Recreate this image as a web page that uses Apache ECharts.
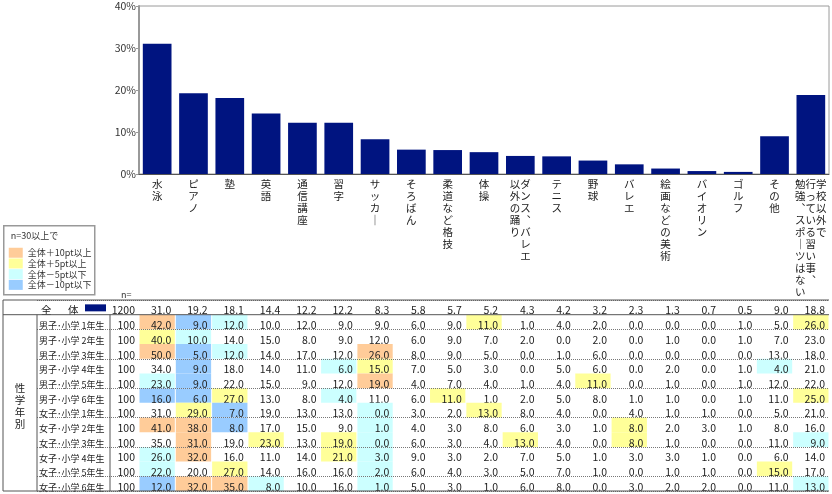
<!DOCTYPE html>
<html>
<head>
<meta charset="utf-8">
<script src="https://cdn.jsdelivr.net/npm/echarts@6/dist/echarts.min.js"></script>
<style>
html, body { margin: 0; padding: 0; background: #fff; }
#main { width: 832px; height: 494px; }
</style>
</head>
<body>
<div id="main"></div>
<script>
// 習い事の種類（横軸）
var categories = ['水泳', 'ピアノ', '塾', '英語', '通信講座', '習字', 'サッカー', 'そろばん', '柔道など格技', '体操',
    'ダンス、バレエ以外の踊り', 'テニス', '野球', 'バレエ', '絵画などの美術', 'バイオリン', 'ゴルフ', 'その他',
    '学校以外で行っている習い事、勉強、スポーツはない'];
// 縦書きラベルの列分け（右の列から）
var labelColumns = [['水泳'], ['ピアノ'], ['塾'], ['英語'], ['通信講座'], ['習字'], ['サッカー'], ['そろばん'],
    ['柔道など格技'], ['体操'], ['ダンス、バレエ', '以外の踊り'], ['テニス'], ['野球'], ['バレエ'], ['絵画などの美術'],
    ['バイオリン'], ['ゴルフ'], ['その他'], ['学校以外で', '行っている習い事、', '勉強、スポーツはない']];

// 全体 (n=1200) %
var overall = [31.0, 19.2, 18.1, 14.4, 12.2, 12.2, 8.3, 5.8, 5.7, 5.2, 4.3, 4.2, 3.2, 2.3, 1.3, 0.7, 0.5, 9.0, 18.8];
var nTotal = 1200;

var rowLabels = ['男子･小学 1年生', '男子･小学 2年生', '男子･小学 3年生', '男子･小学 4年生', '男子･小学 5年生',
    '男子･小学 6年生', '女子･小学 1年生', '女子･小学 2年生', '女子･小学 3年生', '女子･小学 4年生',
    '女子･小学 5年生', '女子･小学 6年生'];
var rowN = [100, 100, 100, 100, 100, 100, 100, 100, 100, 100, 100, 100];

var boy1 = [42, 9, 12, 10, 12, 9, 9, 6, 9, 11, 1, 4, 2, 0, 0, 0, 1, 5, 26];
var boy2 = [40, 10, 14, 15, 8, 9, 12, 6, 9, 7, 2, 0, 2, 0, 1, 0, 1, 7, 23];
var boy3 = [50, 5, 12, 14, 17, 12, 26, 8, 9, 5, 0, 1, 6, 0, 0, 0, 0, 13, 18];
var boy4 = [34, 9, 18, 14, 11, 6, 15, 7, 5, 3, 0, 5, 6, 0, 2, 0, 1, 4, 21];
var boy5 = [23, 9, 22, 15, 9, 12, 19, 4, 7, 4, 1, 4, 11, 0, 1, 0, 1, 12, 22];
var boy6 = [16, 6, 27, 13, 8, 4, 11, 6, 11, 1, 2, 5, 8, 1, 1, 0, 1, 11, 25];
var girl1 = [31, 29, 7, 19, 13, 13, 0, 3, 2, 13, 8, 4, 0, 4, 1, 1, 0, 5, 21];
var girl2 = [41, 38, 8, 17, 15, 9, 1, 4, 3, 8, 6, 3, 1, 8, 2, 3, 1, 8, 16];
var girl3 = [35, 31, 19, 23, 13, 19, 0, 6, 3, 4, 13, 4, 0, 8, 1, 0, 0, 11, 9];
var girl4 = [26, 32, 16, 11, 14, 21, 3, 9, 3, 2, 7, 5, 1, 3, 3, 1, 0, 6, 14];
var girl5 = [22, 20, 27, 14, 16, 16, 2, 6, 4, 3, 5, 7, 1, 0, 1, 1, 0, 15, 17];
var girl6 = [12, 32, 35, 8, 10, 16, 1, 5, 3, 1, 6, 8, 0, 3, 2, 2, 0, 11, 13];
var groupRows = [boy1, boy2, boy3, boy4, boy5, boy6, girl1, girl2, girl3, girl4, girl5, girl6];

var yTicks = [0, 10, 20, 30, 40];

var FONT = '"Noto Sans CJK JP", sans-serif';
var BAR_COLOR = '#001480';
var LINE = '#555';
var C_PLUS10 = '#ffcc99', C_PLUS5 = '#ffff99', C_MINUS5 = '#ccffff', C_MINUS10 = '#99ccff';

var TABLE_TOP = 300, TABLE_BOTTOM = 491;
var ROW_H = (TABLE_BOTTOM - TABLE_TOP) / (rowLabels.length + 1);

// 全体との差で色分け（n=30以上）
function cellColor(diff) {
    if (diff >= 10) return C_PLUS10;
    if (diff >= 5) return C_PLUS5;
    if (diff <= -10) return C_MINUS10;
    if (diff <= -5) return C_MINUS5;
    return null;
}

function verticalLabel(idx) {
    var cols = labelColumns[idx].map(function (s) {
        return s.replace(/ー/g, '｜').replace(/、/g, '︑');
    });
    var len = Math.max.apply(null, cols.map(function (s) { return s.length; }));
    var lines = [];
    for (var i = 0; i < len; i++) {
        var line = '';
        for (var c = cols.length - 1; c >= 0; c--) {
            line += cols[c].charAt(i) || '　';
        }
        lines.push(line);
    }
    return lines.join('\n');
}

var cellData = [];
overall.forEach(function (v, x) { cellData.push([x, 0, v]); });
groupRows.forEach(function (row, r) {
    row.forEach(function (v, x) { cellData.push([x, r + 1, v]); });
});

var rowData = [[0, 0, nTotal]];
rowN.forEach(function (n, r) { rowData.push([0, r + 1, n]); });

var rowNames = ['全体'].concat(rowLabels);

function renderCell(params, api) {
    var x = api.value(0), y = api.value(1), v = api.value(2);
    var c = api.coord([x, y]);
    var s = api.size([1, 1]);
    var left = c[0] - s[0] / 2, top = c[1] - s[1] / 2;
    var children = [];
    var fill = y === 0 ? null : cellColor(v - overall[x]);
    if (fill) {
        children.push({ type: 'rect', shape: { x: left + 0.5, y: top, width: s[0] - 1, height: s[1] }, style: { fill: fill } });
    }
    children.push({
        type: 'text',
        style: { text: v.toFixed(1), x: left + s[0] - 4, y: top + s[1] + 1, align: 'right', verticalAlign: 'bottom',
            fontSize: 10.5, fontFamily: FONT, fill: '#222' }
    });
    return { type: 'group', children: children };
}

function renderRowHead(params, api) {
    var r = api.value(1), n = api.value(2);
    var c0 = api.coord([0, r]);
    var c1 = api.coord([1, r]);
    var h = api.size([0, 1])[1];
    var bottom = c0[1] + h / 2 + 1;
    var children = [];
    if (r === 0) {
        children.push({ type: 'text', style: { text: rowNames[0].charAt(0), x: c0[0] + 4, y: bottom, align: 'left', verticalAlign: 'bottom', fontSize: 10.5, fontFamily: FONT, fill: '#222' } });
        children.push({ type: 'text', style: { text: rowNames[0].charAt(1), x: c0[0] + 31, y: bottom, align: 'left', verticalAlign: 'bottom', fontSize: 10.5, fontFamily: FONT, fill: '#222' } });
        children.push({ type: 'rect', shape: { x: c0[0] + 48, y: c0[1] - 3, width: 21, height: 7 }, style: { fill: BAR_COLOR } });
    } else {
        children.push({ type: 'text', style: { text: rowNames[r], x: c0[0] + 2, y: bottom, align: 'left', verticalAlign: 'bottom', fontSize: 9, fontFamily: FONT, fill: '#222' } });
    }
    children.push({ type: 'text', style: { text: String(n), x: c1[0] - 4, y: bottom, align: 'right', verticalAlign: 'bottom', fontSize: 10.5, fontFamily: FONT, fill: '#222' } });
    return { type: 'group', children: children };
}

var legendItems = [[C_PLUS10, '全体＋10pt以上'], [C_PLUS5, '全体＋5pt以上'], [C_MINUS5, '全体－5pt以下'], [C_MINUS10, '全体－10pt以下']];
var legendChildren = [
    { type: 'rect', shape: { x: 0, y: 0, width: 91, height: 69 }, style: { fill: '#fff', stroke: '#999', lineWidth: 1.5 } },
    { type: 'text', style: { text: 'n=30以上で', x: 7, y: 10, verticalAlign: 'middle', fontSize: 9, fontFamily: FONT, fill: '#333' } }
];
legendItems.forEach(function (it, i) {
    legendChildren.push({ type: 'rect', shape: { x: 5, y: 22 + i * 10.7, width: 14, height: 10 }, style: { fill: it[0] } });
    legendChildren.push({ type: 'text', style: { text: it[1], x: 24, y: 27 + i * 10.7, verticalAlign: 'middle', fontSize: 9, fontFamily: FONT, fill: '#333' } });
});

function hLine(x1, x2, y) {
    return { type: 'line', z: 50, shape: { x1: x1, y1: y, x2: x2, y2: y }, style: { stroke: LINE, lineWidth: 1 } };
}
function vLine(x, y1, y2) {
    return { type: 'line', z: 50, shape: { x1: x, y1: y1, x2: x, y2: y2 }, style: { stroke: LINE, lineWidth: 1 } };
}

var chart = echarts.init(document.getElementById('main'));
var option = {
    animation: false,
    textStyle: { fontFamily: FONT },
    grid: [
        { left: 139, right: 3, top: 6, bottom: 320, show: true, borderColor: '#9a9a9a', borderWidth: 1 },
        { left: 139, right: 3, top: TABLE_TOP, bottom: 494 - TABLE_BOTTOM },
        { left: 37, width: 102, top: TABLE_TOP, bottom: 494 - TABLE_BOTTOM }
    ],
    xAxis: [
        {
            type: 'category', gridIndex: 0, data: categories, z: 10,
            axisLine: { lineStyle: { color: LINE } },
            axisTick: { interval: 0, length: TABLE_BOTTOM - 174, lineStyle: { color: LINE } },
            axisLabel: {
                interval: 0, margin: 4, fontSize: 10.5, lineHeight: 12, color: '#222', fontFamily: FONT,
                formatter: function (val, idx) { return verticalLabel(idx); }
            }
        },
        { type: 'category', gridIndex: 1, data: categories, show: false },
        { type: 'value', gridIndex: 2, min: 0, max: 1, show: false }
    ],
    yAxis: [
        {
            type: 'value', gridIndex: 0, min: yTicks[0], max: yTicks[yTicks.length - 1], interval: 10,
            axisLine: { show: true, lineStyle: { color: '#999', width: 2 } },
            axisTick: { show: true, length: 3, lineStyle: { color: '#999' } },
            axisLabel: { formatter: '{value}%', fontSize: 10.5, color: '#333', margin: 3, fontFamily: FONT },
            splitLine: { show: false }
        },
        {
            type: 'category', gridIndex: 1, data: rowNames, inverse: true, z: 10,
            axisLine: { show: false }, axisTick: { show: false }, axisLabel: { show: false },
            splitLine: { show: true, lineStyle: { type: 'dotted', color: '#777' } }
        },
        {
            type: 'category', gridIndex: 2, data: rowNames, inverse: true, z: 10,
            axisLine: { show: false }, axisTick: { show: false }, axisLabel: { show: false },
            splitLine: { show: true, lineStyle: { type: 'dotted', color: '#777' } }
        }
    ],
    series: [
        {
            type: 'bar', xAxisIndex: 0, yAxisIndex: 0, data: overall, barCategoryGap: '21%',
            itemStyle: { color: BAR_COLOR }, silent: true
        },
        {
            type: 'custom', xAxisIndex: 1, yAxisIndex: 1, data: cellData, renderItem: renderCell,
            encode: { x: 0, y: 1 }, silent: true
        },
        {
            type: 'custom', xAxisIndex: 2, yAxisIndex: 2, data: rowData, renderItem: renderRowHead,
            encode: { x: 0, y: 1 }, silent: true
        }
    ],
    graphic: [
        { type: 'group', left: 3, top: 225, children: legendChildren },
        { type: 'text', z: 50, style: { text: 'n=', x: 121, y: 299, verticalAlign: 'bottom', fontSize: 9, fontFamily: FONT, fill: '#333' } },
        {
            type: 'text', z: 50,
            style: { text: '性\n学\n年\n別', x: 20, y: 406, align: 'center', verticalAlign: 'middle', lineHeight: 12,
                fontSize: 10.5, fontFamily: FONT, fill: '#222' }
        },
        hLine(3, 829, TABLE_TOP),
        hLine(3, 829, TABLE_TOP + ROW_H),
        hLine(3, 829, TABLE_BOTTOM),
        vLine(3, TABLE_TOP, TABLE_BOTTOM),
        vLine(37, TABLE_TOP + ROW_H, TABLE_BOTTOM),
        vLine(110, TABLE_TOP + ROW_H, TABLE_BOTTOM)
    ]
};
chart.setOption(option);
</script>
</body>
</html>
